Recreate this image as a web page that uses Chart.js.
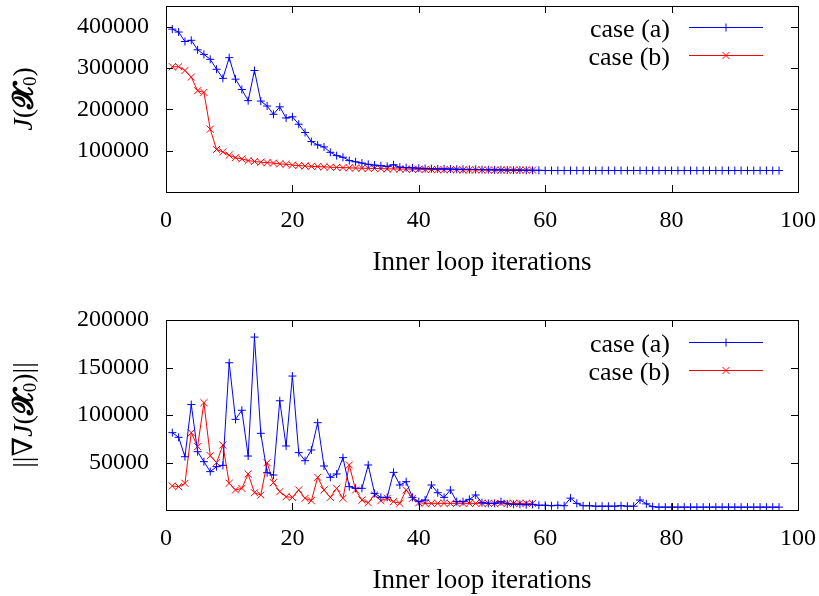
<!DOCTYPE html>
<html>
<head>
<meta charset="utf-8">
<script src="https://cdn.jsdelivr.net/npm/chart.js@4/dist/chart.umd.min.js"></script>
<style>
  html, body { margin: 0; padding: 0; background: #fff; }
  .box { position: absolute; left: 0; width: 819px; height: 298px; }
</style>
</head>
<body>
<div class="box" style="top:0"><canvas id="costChart"></canvas></div>
<div class="box" style="top:298px"><canvas id="gradChart"></canvas></div>
<script>
  // J(X0) per inner loop iteration
  const costA = [
    394000, 387000, 364000, 367000, 344000, 333000, 321000, 297000, 275000, 325000,
    273000, 248000, 221000, 294000, 220000, 208000, 188000, 206000, 179000, 182000,
    164000, 144000, 122000, 114000, 109000, 96000, 88000, 84000, 76000, 73000,
    70000, 67000, 65000, 63500, 62000, 66000, 60000, 59000, 58500, 57500,
    57000, 56500, 56000, 56000, 55500, 55000, 55000, 54500, 54500, 54000,
    54000, 53500, 53500, 53000, 53000, 53000, 52500, 52500, 52500, 52000,
    52000, 52000, 52000, 52000, 52000, 52000, 52000, 52000, 52000, 52000,
    52000, 52000, 52000, 52000, 52000, 52000, 52000, 52000, 52000, 52000,
    52000, 52000, 52000, 52000, 52000, 52000, 52000, 52000, 52000, 52000,
    52000, 52000, 52000, 52000, 52000, 52000, 52000
  ];
  const costB = [
    303000, 303000, 294000, 278000, 245000, 241000, 152000, 103000, 97000, 89000,
    83000, 80000, 76000, 74000, 72000, 71000, 70000, 68000, 67000, 65000,
    64000, 63000, 62000, 61500, 61000, 60000, 59500, 59000, 58500, 58000,
    57500, 57000, 57000, 56500, 56000, 56000, 55500, 55500, 55000, 55000,
    54500, 54500, 54000, 54000, 54000, 54000, 53500, 53500, 53500, 53500,
    53000, 53000, 53000, 53000, 53000, 53000, 53000, 53000
  ];

  // ||grad J(X0)|| per inner loop iteration
  const gradA = [
    81400, 76500, 56100, 111000, 61400, 50900, 40400, 45600, 47000, 155000,
    95400, 105000, 56800, 182000, 80700, 39300, 36800, 115000, 67400, 141000,
    60400, 51900, 63200, 91900, 46300, 34400, 37900, 55100, 24600, 22800,
    22800, 47400, 17500, 13300, 13300, 39600, 26300, 29800, 13300, 8800,
    10500, 26300, 18200, 13300, 21000, 8800, 8800, 11200, 15800, 7700,
    7000, 7000, 8800, 6500, 6000, 6000, 5500, 6000, 5000, 5000,
    4500, 5000, 4500, 12500, 7000, 4500, 4500, 4000, 4000, 4000,
    4000, 4500, 4000, 4000, 10500, 6500, 3500, 3000, 3000, 3000,
    3000, 3000, 3000, 3000, 3000, 3000, 3000, 3000, 3000, 3000,
    3000, 3000, 3000, 3000, 3000, 3000, 3000
  ];
  const gradB = [
    25300, 24600, 28100, 81400, 66700, 113000, 57200, 49800, 68400, 28100,
    21100, 22800, 37900, 18200, 15800, 49800, 28800, 19300, 14000, 13300,
    21100, 12300, 9800, 34400, 21100, 13300, 22800, 12300, 47400, 21100,
    10500, 7700, 15800, 9800, 12300, 8800, 7000, 21100, 12300, 7700,
    7000, 7000, 7000, 7000, 7000, 7000, 7000, 7000, 7000, 7000,
    7000, 7000, 7000, 7000, 7000, 7000, 7000, 7000
  ];

  const seriesLabels = ["case (a)", "case (b)"];
  const xTicks = [0, 20, 40, 60, 80, 100];
  const costTicks = [100000, 200000, 300000, 400000];
  const gradTicks = [50000, 100000, 150000, 200000];
  const xTitle = "Inner loop iterations";

  const FONT = "'Liberation Serif', 'DejaVu Serif', serif";
  const BLUE = "rgb(0,0,255)";
  const RED = "rgb(255,0,0)";

  const toPoints = arr => arr.map((v, i) => ({ x: i + 1, y: v }));

  // gnuplot style frame with inward ticks, legend and axis titles
  const gnuplotPlugin = {
    id: 'gnuplotFrame',
    afterDraw(chart) {
      const { ctx, chartArea: a, scales } = chart;
      const opts = chart.options.plugins.gnuplotFrame;
      ctx.save();
      ctx.strokeStyle = "#000";
      ctx.lineWidth = 1;
      ctx.strokeRect(a.left + 0.5, a.top + 0.5, a.right - a.left, a.bottom - a.top);
      const tl = 7;
      ctx.beginPath();
      for (const v of xTicks) {
        const x = Math.round(scales.x.getPixelForValue(v)) + 0.5;
        ctx.moveTo(x, a.bottom); ctx.lineTo(x, a.bottom - tl);
        ctx.moveTo(x, a.top); ctx.lineTo(x, a.top + tl);
      }
      for (const v of opts.yTicks) {
        const y = Math.round(scales.y.getPixelForValue(v)) + 0.5;
        ctx.moveTo(a.left, y); ctx.lineTo(a.left + tl, y);
        ctx.moveTo(a.right, y); ctx.lineTo(a.right - tl, y);
      }
      ctx.stroke();

      // legend, top right inside the frame
      ctx.font = "26px " + FONT;
      ctx.textBaseline = "middle";
      chart.data.datasets.forEach((ds, i) => {
        const y = Math.round(a.top + opts.legendTop + i * 27.5);
        ctx.fillStyle = "#000";
        ctx.textAlign = "right";
        ctx.fillText(ds.label, a.right - 128, y + 3);
        ctx.strokeStyle = ds.borderColor;
        ctx.lineWidth = 1;
        ctx.beginPath();
        ctx.moveTo(a.right - 109, y + 0.5);
        ctx.lineTo(a.right - 35, y + 0.5);
        ctx.stroke();
        Chart.helpers.drawPoint(ctx, {
          pointStyle: ds.pointStyle, radius: ds.pointRadius, borderWidth: 1
        }, a.right - 72, y + 0.5);
      });

      // x title
      ctx.fillStyle = "#000";
      ctx.textAlign = "center";
      ctx.font = "27px " + FONT;
      ctx.fillText(xTitle, (a.left + a.right) / 2, a.bottom + 71);

      // y title, rotated, drawn in pieces
      const parts = opts.yTitle;
      ctx.translate(25, (a.top + a.bottom) / 2);
      ctx.rotate(-Math.PI / 2);
      let w = 0;
      for (const p of parts) { ctx.font = p.f; w += ctx.measureText(p.t).width; }
      let x = -w / 2;
      ctx.textAlign = "left";
      for (const p of parts) {
        ctx.font = p.f;
        ctx.fillText(p.t, x, p.dy || 0);
        x += ctx.measureText(p.t).width;
      }
      ctx.restore();
    }
  };

  const makeChart = (id, a, b, yMax, yTicks, yTitle, padTop, xHeight, legendTop) => new Chart(document.getElementById(id), {
    type: 'line',
    data: {
      datasets: [{
        label: seriesLabels[0],
        data: toPoints(a),
        borderColor: BLUE,
        backgroundColor: BLUE,
        borderWidth: 1,
        pointStyle: 'cross',
        pointRadius: 4,
        pointBorderWidth: 1,
        tension: 0
      }, {
        label: seriesLabels[1],
        data: toPoints(b),
        borderColor: RED,
        backgroundColor: RED,
        borderWidth: 1,
        pointStyle: 'crossRot',
        pointRadius: 5,
        pointBorderWidth: 1,
        tension: 0
      }]
    },
    options: {
      responsive: true,
      maintainAspectRatio: false,
      animation: false,
      layout: { padding: { top: padTop, right: 21, left: 0, bottom: 0 } },
      scales: {
        x: {
          type: 'linear',
          min: 0,
          max: 100,
          afterBuildTicks: s => { s.ticks = xTicks.map(v => ({ value: v })); },
          afterFit: s => { s.height = xHeight; s.paddingLeft = 0; s.paddingRight = 0; },
          grid: { display: false, drawTicks: false },
          border: { display: false },
          ticks: {
            color: "#000", padding: 14, maxRotation: 0,
            font: { family: FONT, size: 24 },
            callback: v => String(v)
          }
        },
        y: {
          min: 0,
          max: yMax,
          afterBuildTicks: s => { s.ticks = yTicks.map(v => ({ value: v })); },
          afterFit: s => { s.width = 166; s.paddingTop = 0; s.paddingBottom = 0; },
          grid: { display: false, drawTicks: false },
          border: { display: false },
          ticks: {
            color: "#000", padding: 17,
            font: { family: FONT, size: 24 },
            callback: v => String(v)
          }
        }
      },
      plugins: {
        legend: { display: false },
        tooltip: { enabled: false },
        gnuplotFrame: { yTicks: yTicks, yTitle: yTitle, legendTop: legendTop }
      }
    },
    plugins: [gnuplotPlugin]
  });

  makeChart("costChart", costA, costB, 450000, costTicks, [
    { t: "J", f: "italic 28px " + FONT },
    { t: "(", f: "28px " + FONT },
    { t: "\u{1D4E7}", f: "bold 28px 'DejaVu Sans', " + FONT },
    { t: "0", f: "19px " + FONT, dy: 6 },
    { t: ")", f: "28px " + FONT }
  ], 3, 106, 21);

  makeChart("gradChart", gradA, gradB, 200000, gradTicks, [
    { t: "||\u2207", f: "28px " + FONT },
    { t: "J", f: "italic 28px " + FONT },
    { t: "(", f: "28px " + FONT },
    { t: "\u{1D4E7}", f: "bold 28px 'DejaVu Sans', " + FONT },
    { t: "0", f: "19px " + FONT, dy: 6 },
    { t: ")||", f: "28px " + FONT }
  ], 22, 86, 22);
</script>
</body>
</html>
